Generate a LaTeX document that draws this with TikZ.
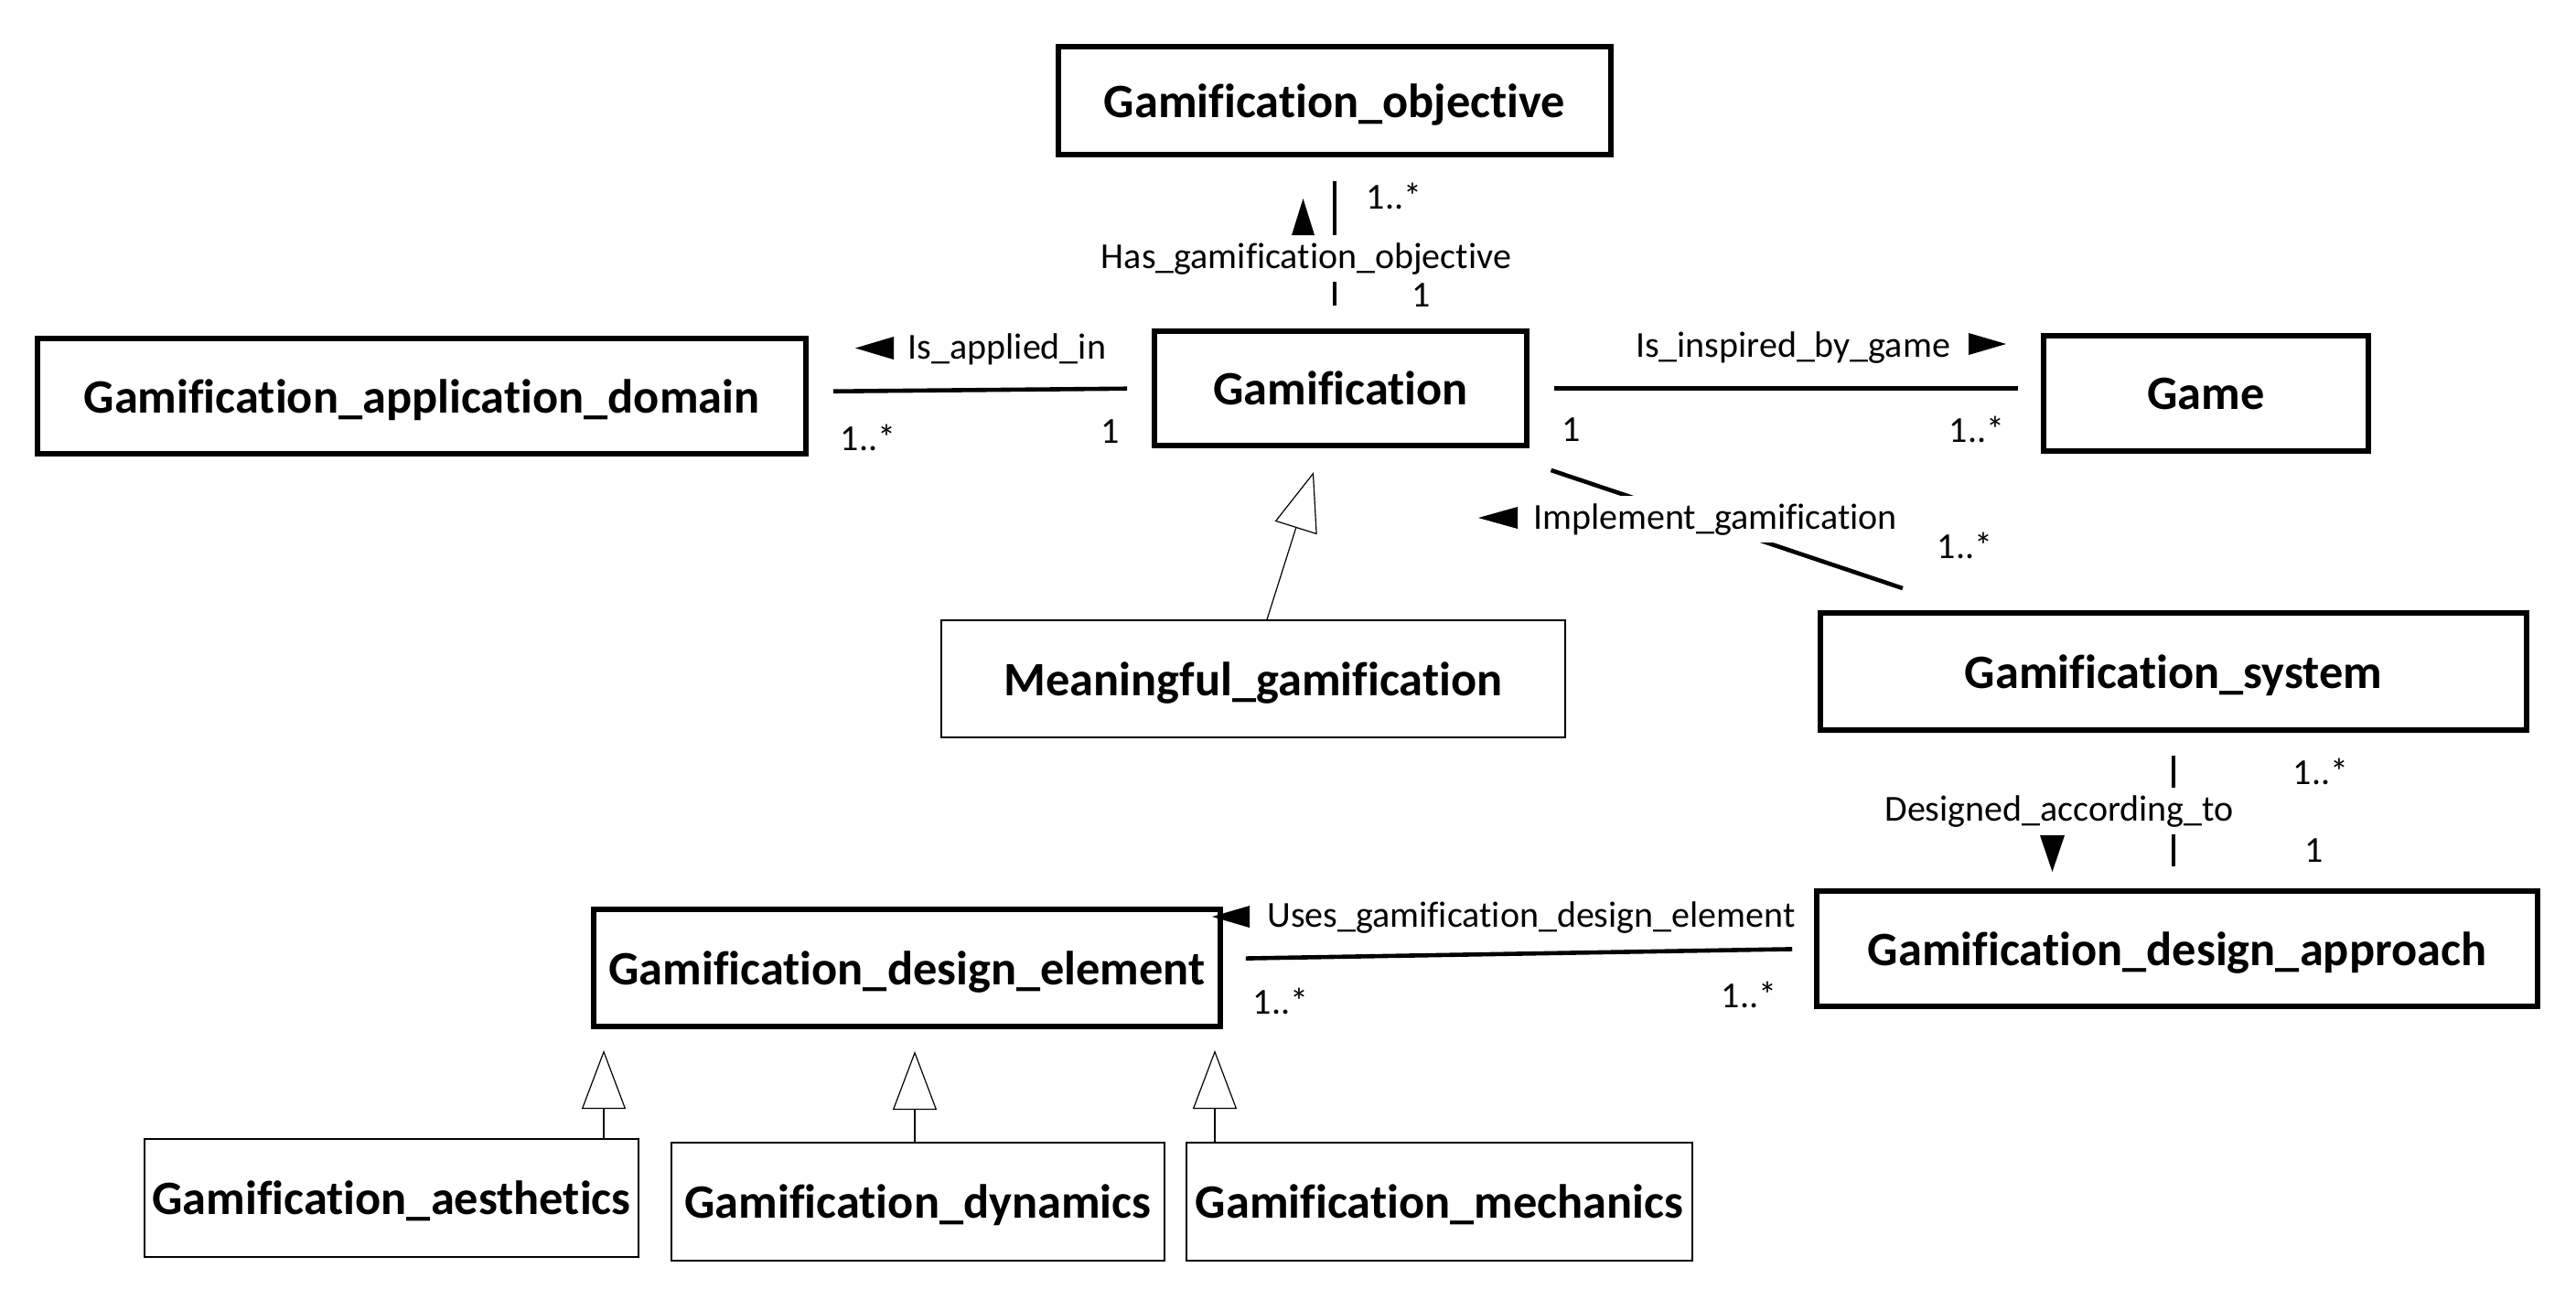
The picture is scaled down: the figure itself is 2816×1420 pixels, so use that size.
\documentclass[tikz,border=0pt]{standalone}
\usepackage{fontspec}
\setmainfont{Carlito}[Ligatures=NoCommon]
\usetikzlibrary{arrows.meta}
\tikzset{
  cls/.style={draw, line width=2.8pt, inner sep=0pt, text depth=0pt, font=\bfseries\fontsize{26.2}{31}\selectfont},
  sub/.style={cls, line width=0.8pt},
  assoc/.style={line width=2.3pt},
  lbl/.style={font=\fontsize{20}{24}\selectfont, inner sep=0pt},
  cut/.style={lbl, fill=white, inner sep=4pt},
  mult/.style={lbl},
  gen/.style={line width=0.6pt, -{Triangle[open,length=32pt,width=24pt,line width=0.6pt]}},
  dirtri/.style={fill=black}
}
\begin{document}
\begin{tikzpicture}[x=0.5pt,y=-0.5pt]
\useasboundingbox (0,0) rectangle (2816,1420);
% classes
\node[cls, minimum width=302pt, minimum height=59pt] (obj) at (1459,110) {Gamification\_objective};
\node[cls, minimum width=203.5pt, minimum height=62.5pt] (gam) at (1465.5,424.5) {Gamification};
\node[cls, minimum width=420pt, minimum height=63pt] (appdom) at (461,433) {Gamification\_application\_domain};
\node[cls, minimum width=177.5pt, minimum height=63pt] (game) at (2411.5,430) {Game};
\node[sub, minimum width=341pt, minimum height=64pt] (mean) at (1370,742) {Meaningful\_gamification};
\node[cls, minimum width=386pt, minimum height=64pt] (sys) at (2376,734) {Gamification\_system};
\node[cls, minimum width=394pt, minimum height=63pt] (appr) at (2380,1037) {Gamification\_design\_approach};
\node[cls, minimum width=342.5pt, minimum height=64pt] (elem) at (991.5,1058) {Gamification\_design\_element};
\node[sub, minimum width=270pt, minimum height=64.5pt] (aes) at (428,1309.5) {Gamification\_aesthetics};
\node[sub, minimum width=269.5pt, minimum height=64.5pt] (dyn) at (1003.5,1313.5) {Gamification\_dynamics};
\node[sub, minimum width=276.5pt, minimum height=64.5pt] (mech) at (1573.5,1313.5) {Gamification\_mechanics};

% associations
\draw[assoc, shorten <=13pt, shorten >=12.5pt] (obj.south) -- (obj.south |- gam.north);
\draw[assoc, shorten <=13.5pt, shorten >=13.5pt] ([yshift=2.5pt]appdom.east) -- (gam.west);
\draw[assoc, shorten <=13.5pt, shorten >=12.5pt] (gam.east) -- (gam.east -| game.west);
\draw[assoc, shorten <=38pt, shorten >=38pt] ([xshift=79pt]gam.south) -- ([xshift=-112pt]sys.north);
\draw[assoc, shorten <=12.5pt, shorten >=12pt] (sys.south) -- (sys.south |- appr.north);
\draw[assoc, shorten <=12.5pt, shorten >=12pt] ([yshift=5pt]elem.east) -- (appr.west);

% generalizations
\coordinate (g0) at (1436,516);
\coordinate (g1) at (660,1148);
\coordinate (g2) at (1000,1149);
\coordinate (g3) at (1328,1148);
\draw[gen] ([xshift=7.5pt]mean.north) -- (g0);
\draw[gen] (g1 |- aes.north) -- (g1);
\draw[gen] (g2 |- dyn.north) -- (g2);
\draw[gen] (g3 |- mech.north) -- (g3);

% association labels
\node[cut, anchor=base] (lobj) at (1428,293) {Has\_gamification\_objective};
\node[lbl, anchor=base] (lapp) at (1101,392) {Is\_applied\_in};
\node[lbl, anchor=base] (lins) at (1960,390) {Is\_inspired\_by\_game};
\node[cut, anchor=base] (limp) at (1875,578) {Implement\_gamification};
\node[cut, anchor=base] (ldes) at (2251,897) {Designed\_according\_to};
\node[lbl, anchor=base] (luse) at (1674,1013) {Uses\_gamification\_design\_element};

% direction triangles
\fill[dirtri] (1412,257) -- (1437,257) -- (1424.5,217) -- cycle;
\fill[dirtri] (977,368) -- (977,393) -- (935,380.5) -- cycle;
\fill[dirtri] (2152,364) -- (2152,388) -- (2193,376) -- cycle;
\fill[dirtri] (1659,554) -- (1659,578) -- (1616,566) -- cycle;
\fill[dirtri] (2230,913) -- (2257,913) -- (2243.5,953) -- cycle;
\fill[dirtri] (1366,990) -- (1366,1014) -- (1325,1002) -- cycle;

% multiplicities
\node[mult] (m1) at (1524,214) {1..*};
\node[mult] (m2) at (1554,323) {1};
\node[mult] (m3) at (949,478) {1..*};
\node[mult] (m4) at (1214,472) {1};
\node[mult] (m5) at (1718,470) {1};
\node[mult] (m6) at (2161,469) {1..*};
\node[mult] (m7) at (2148,596) {1..*};
\node[mult] (m8) at (2537,843) {1..*};
\node[mult] (m9) at (2530,930) {1};
\node[mult] (m10) at (1400,1094) {1..*};
\node[mult] (m11) at (1912,1087) {1..*};
\end{tikzpicture}
\end{document}
